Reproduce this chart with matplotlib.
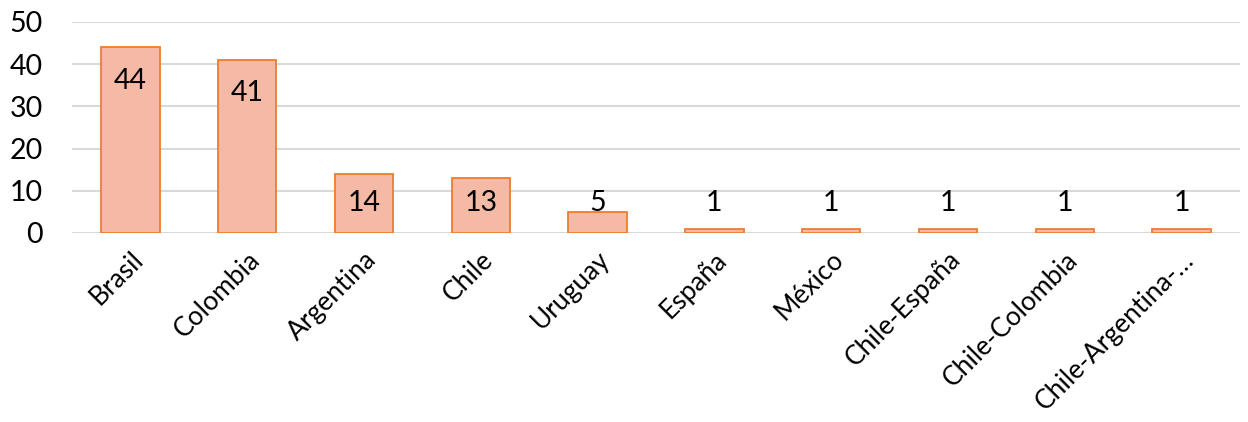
import numpy as np
import matplotlib.pyplot as plt

# Data
paises = ['Brasil', 'Colombia', 'Argentina', 'Chile', 'Uruguay', 'España',
          'México', 'Chile-España', 'Chile-Colombia', 'Chile-Argentina-…']
cantidad = [44, 41, 14, 13, 5, 1, 1, 1, 1, 1]
yticks = [0, 10, 20, 30, 40, 50]

plt.rcParams['font.family'] = ['Lato', 'DejaVu Sans']

fig = plt.figure(figsize=(12.48, 4.22), dpi=100)
ax = fig.add_axes([0.0577, 0.4479, 0.9359, 0.5])

x = np.arange(len(paises))
ax.bar(x, cantidad, width=0.5, color='#F4BAA6', edgecolor='#ED7D31',
       linewidth=1.3, zorder=3)

# Etiquetas de datos (dentro del extremo, o encima si la barra es baja)
for xi, v in zip(x, cantidad):
    ax.text(xi, max(v - 7.9, 7.1), str(v), ha='center', va='center',
            fontsize=20.5, color='black', zorder=4)

ax.set_xlim(-0.5, len(paises) - 0.5)
ax.set_ylim(0, 50)
ax.set_yticks(yticks)
ax.set_xticks(x)
ax.set_xticklabels(paises, rotation=45, ha='right', rotation_mode='anchor',
                   fontsize=19)
ax.tick_params(axis='y', length=0, labelsize=20.5, colors='black', pad=21)
ax.tick_params(axis='x', length=0, colors='black', pad=10)

ax.yaxis.grid(True, color='#D9D9D9', linewidth=1.5, zorder=0)
for s in ax.spines.values():
    s.set_visible(False)

fig.savefig('out.png', dpi=100)
